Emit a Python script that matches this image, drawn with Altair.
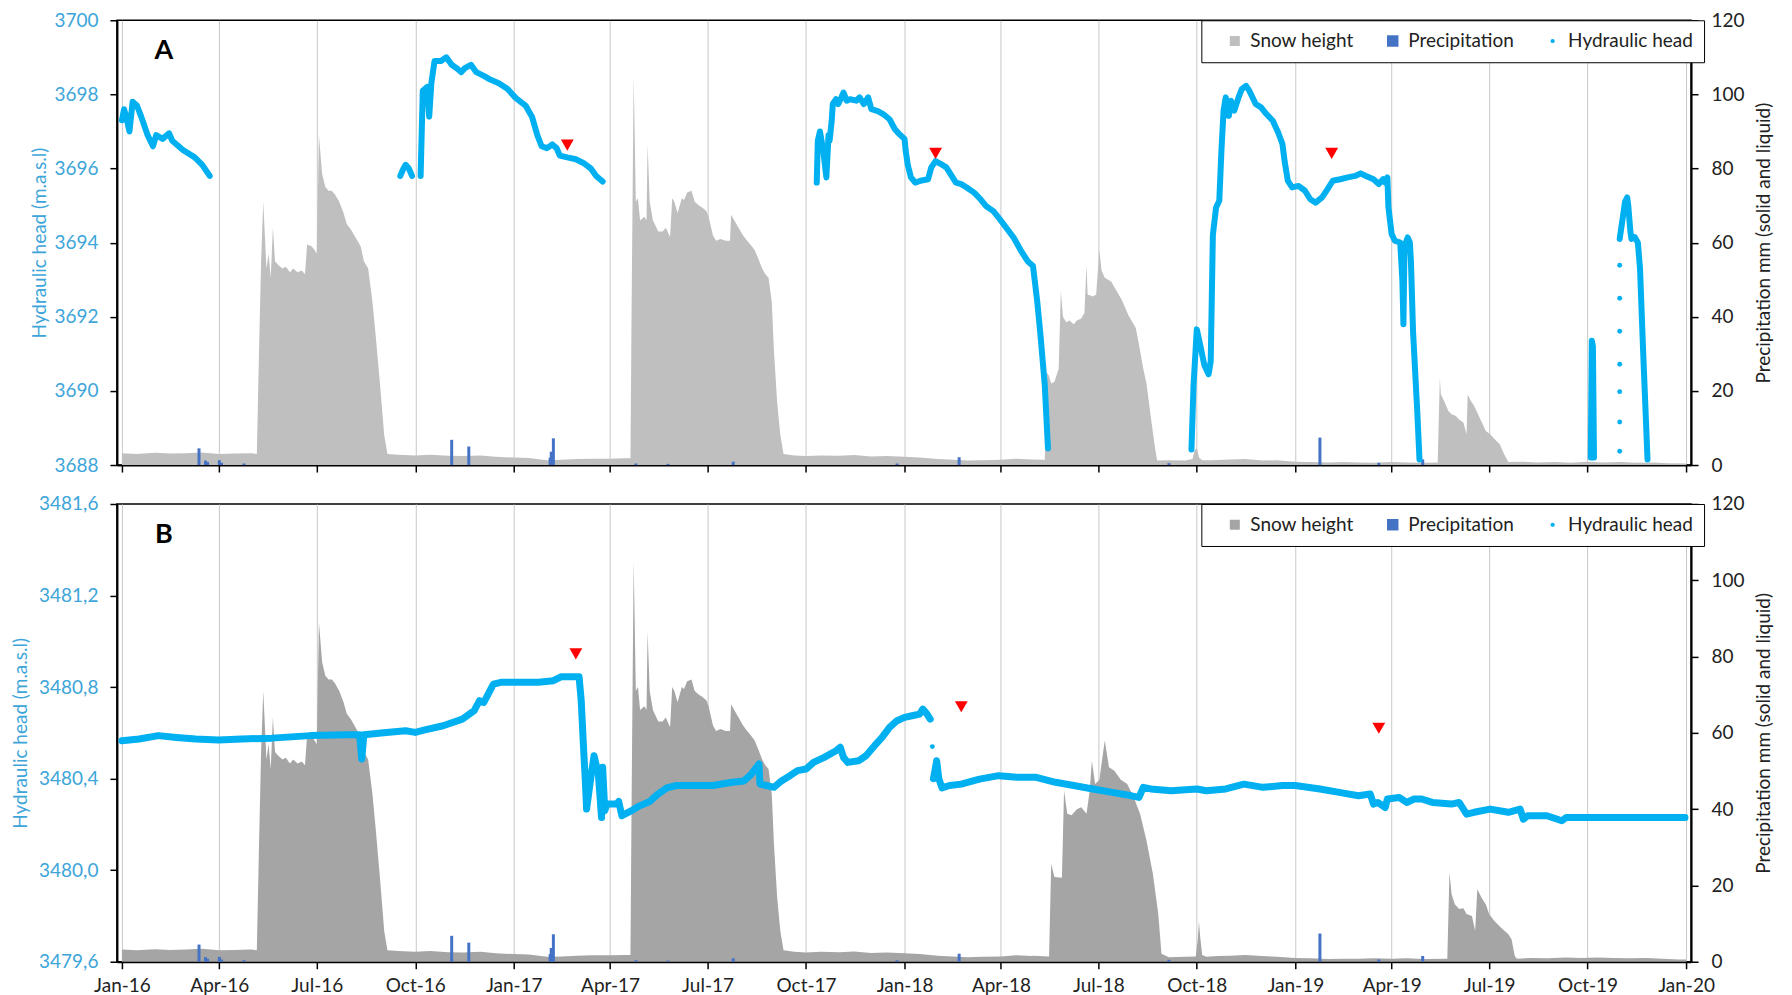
import altair as alt
import pandas as pd

# ---------------- data ----------------
series_names = ["Snow height", "Precipitation", "Hydraulic head"]
panel_labels = ["A", "B"]

tick_dates = [(y, m) for y in (2016, 2017, 2018, 2019) for m in (1, 4, 7, 10)] + [(2020, 1)]
head_a_ticks = [3688, 3690, 3692, 3694, 3696, 3698, 3700]
head_b_ticks = [3479.6, 3480.0, 3480.4, 3480.8, 3481.2, 3481.6]
precip_ticks = [0, 20, 40, 60, 80, 100, 120]

# snow height, shared part (Jan 2016 - Apr 2018)
snow_early = [
    ("2016-01-01", 3.2), ("2016-01-15", 3.0), ("2016-02-01", 3.3), ("2016-02-15", 3.1),
    ("2016-03-01", 3.2), ("2016-03-15", 3.4), ("2016-04-01", 3.0), ("2016-04-15", 3.1),
    ("2016-05-01", 3.2), ("2016-05-06", 3.0), ("2016-05-08", 30), ("2016-05-10", 55),
    ("2016-05-12", 71), ("2016-05-15", 53), ("2016-05-17", 57), ("2016-05-19", 50.5),
    ("2016-05-21", 64), ("2016-05-23", 55), ("2016-05-26", 54), ("2016-05-30", 53),
    ("2016-06-02", 53.5), ("2016-06-06", 52), ("2016-06-09", 53), ("2016-06-13", 52),
    ("2016-06-17", 52.5), ("2016-06-20", 51.5), ("2016-06-22", 59.5), ("2016-06-26", 59),
    ("2016-06-29", 58), ("2016-07-01", 57), ("2016-07-03", 89), ("2016-07-06", 78.5),
    ("2016-07-09", 75), ("2016-07-12", 74), ("2016-07-15", 74), ("2016-07-18", 73),
    ("2016-07-22", 71), ("2016-07-26", 68), ("2016-07-29", 65), ("2016-08-02", 63.5),
    ("2016-08-05", 62), ("2016-08-11", 59), ("2016-08-14", 55), ("2016-08-18", 53),
    ("2016-08-22", 44), ("2016-08-25", 35), ("2016-08-29", 22), ("2016-09-02", 8),
    ("2016-09-05", 3), ("2016-09-15", 2.8), ("2016-10-01", 2.6), ("2016-10-15", 2.8),
    ("2016-11-01", 2.5), ("2016-11-15", 2.4), ("2016-12-01", 2.6), ("2016-12-15", 2.2),
    ("2017-01-01", 2.0), ("2017-01-15", 1.9), ("2017-02-01", 1.3), ("2017-02-15", 1.4),
    ("2017-03-01", 1.6), ("2017-03-15", 1.7), ("2017-04-01", 1.7), ("2017-04-15", 1.8),
    ("2017-04-20", 1.8), ("2017-04-21", 40), ("2017-04-23", 105), ("2017-04-25", 71),
    ("2017-04-27", 72), ("2017-04-29", 66), ("2017-05-03", 67), ("2017-05-05", 66),
    ("2017-05-06", 86.5), ("2017-05-08", 71), ("2017-05-11", 66), ("2017-05-16", 63),
    ("2017-05-20", 63), ("2017-05-23", 64), ("2017-05-27", 61.5), ("2017-05-29", 72),
    ("2017-05-31", 71), ("2017-06-03", 68), ("2017-06-07", 72), ("2017-06-09", 71.5),
    ("2017-06-12", 73.5), ("2017-06-16", 74), ("2017-06-19", 71), ("2017-06-23", 70),
    ("2017-06-26", 69.5), ("2017-06-30", 68.5), ("2017-07-02", 67), ("2017-07-06", 62),
    ("2017-07-09", 60.5), ("2017-07-13", 61), ("2017-07-18", 60.5), ("2017-07-22", 60.5),
    ("2017-07-23", 67.5), ("2017-07-27", 65.5), ("2017-07-30", 64), ("2017-08-03", 62),
    ("2017-08-07", 60.5), ("2017-08-10", 59.5), ("2017-08-14", 58), ("2017-08-17", 56),
    ("2017-08-21", 53), ("2017-08-24", 51.5), ("2017-08-27", 50.5), ("2017-08-30", 44),
    ("2017-09-01", 31), ("2017-09-04", 17), ("2017-09-07", 8), ("2017-09-10", 3),
    ("2017-09-20", 2.6), ("2017-10-01", 2.4), ("2017-10-15", 2.6), ("2017-11-01", 2.5),
    ("2017-11-15", 2.7), ("2017-12-01", 2.3), ("2017-12-15", 2.4), ("2018-01-01", 2.2),
    ("2018-01-15", 2.0), ("2018-02-01", 1.6), ("2018-02-15", 1.4), ("2018-03-01", 1.2),
    ("2018-03-15", 1.3), ("2018-04-01", 1.4), ("2018-04-15", 1.7), ("2018-04-30", 1.5),
]

# snow height, panel A (May 2018 - Jan 2020)
snow_a_late = [
    ("2018-05-12", 1.4), ("2018-05-14", 25), ("2018-05-16", 24), ("2018-05-18", 22),
    ("2018-05-21", 22.5), ("2018-05-25", 26), ("2018-05-27", 47), ("2018-05-29", 40),
    ("2018-06-01", 38.5), ("2018-06-04", 39), ("2018-06-08", 38), ("2018-06-11", 39),
    ("2018-06-15", 39.5), ("2018-06-18", 41), ("2018-06-20", 54), ("2018-06-21", 46),
    ("2018-06-26", 45.5), ("2018-06-29", 46), ("2018-07-02", 58), ("2018-07-04", 52.5),
    ("2018-07-07", 50.5), ("2018-07-13", 49.5), ("2018-07-18", 47), ("2018-07-23", 44.5),
    ("2018-07-29", 40.5), ("2018-08-01", 39), ("2018-08-05", 37), ("2018-08-08", 32.5),
    ("2018-08-12", 26), ("2018-08-15", 22), ("2018-08-19", 13), ("2018-08-23", 4.5),
    ("2018-08-25", 1.2), ("2018-09-05", 1.3), ("2018-09-20", 1.2), ("2018-09-27", 1.6),
    ("2018-09-29", 4), ("2018-10-01", 4.5), ("2018-10-03", 2), ("2018-10-06", 1.3),
    ("2018-10-15", 1.3), ("2018-11-01", 1.5), ("2018-11-15", 1.6), ("2018-12-01", 1.2),
    ("2018-12-15", 1.3), ("2019-01-01", 0.9), ("2019-01-15", 0.8), ("2019-02-01", 0.7),
    ("2019-02-15", 0.8), ("2019-03-01", 0.7), ("2019-03-15", 0.6), ("2019-04-01", 0.8),
    ("2019-04-15", 0.7), ("2019-05-01", 0.6), ("2019-05-14", 0.7), ("2019-05-16", 23.5),
    ("2019-05-17", 19), ("2019-05-20", 17.3), ("2019-05-24", 14.6), ("2019-05-27", 13.7),
    ("2019-05-31", 13.2), ("2019-06-03", 12.3), ("2019-06-07", 11.5), ("2019-06-10", 8.3),
    ("2019-06-11", 19), ("2019-06-14", 17.3), ("2019-06-17", 16), ("2019-06-21", 13.5),
    ("2019-06-25", 11), ("2019-06-28", 9.2), ("2019-07-02", 8.3), ("2019-07-06", 7),
    ("2019-07-11", 5.6), ("2019-07-15", 3), ("2019-07-19", 0.8), ("2019-08-01", 0.9),
    ("2019-08-15", 0.7), ("2019-09-01", 0.8), ("2019-09-15", 0.6), ("2019-10-01", 0.9),
    ("2019-10-15", 0.7), ("2019-11-01", 0.8), ("2019-11-15", 0.6), ("2019-12-01", 0.7),
    ("2019-12-15", 0.5), ("2020-01-01", 0.4),
]

# snow height, panel B (May 2018 - Jan 2020)
snow_b_late = [
    ("2018-05-01", 1.6), ("2018-05-16", 1.4), ("2018-05-18", 25.7), ("2018-05-21", 22.2),
    ("2018-05-28", 22), ("2018-05-30", 44.9), ("2018-06-02", 38.8), ("2018-06-06", 38.4),
    ("2018-06-11", 40), ("2018-06-15", 40.5), ("2018-06-20", 38.8), ("2018-06-23", 44.9),
    ("2018-06-25", 52.7), ("2018-06-28", 46.6), ("2018-07-02", 47.7), ("2018-07-07", 58),
    ("2018-07-11", 51), ("2018-07-16", 50.1), ("2018-07-22", 47.7), ("2018-07-28", 46.6),
    ("2018-08-03", 43.2), ("2018-08-09", 38.8), ("2018-08-15", 31.8), ("2018-08-21", 23),
    ("2018-08-26", 12.6), ("2018-08-29", 2.1), ("2018-09-05", 1.2), ("2018-09-20", 1.3),
    ("2018-09-30", 1.4), ("2018-10-02", 6), ("2018-10-03", 10.6), ("2018-10-04", 7),
    ("2018-10-06", 1.8), ("2018-10-10", 1.3), ("2018-10-20", 1.5), ("2018-11-01", 1.6),
    ("2018-11-15", 1.8), ("2018-12-01", 1.5), ("2018-12-15", 1.3), ("2019-01-01", 1.0),
    ("2019-01-15", 0.9), ("2019-02-01", 0.7), ("2019-02-15", 0.8), ("2019-03-01", 0.8),
    ("2019-03-15", 0.9), ("2019-04-01", 0.8), ("2019-04-15", 0.9), ("2019-05-01", 0.7),
    ("2019-05-23", 0.8), ("2019-05-25", 23.4), ("2019-05-27", 17.7), ("2019-05-30", 15.1),
    ("2019-06-03", 13.8), ("2019-06-07", 14), ("2019-06-10", 12.5), ("2019-06-15", 12),
    ("2019-06-18", 8.1), ("2019-06-20", 19), ("2019-06-24", 16.8), ("2019-06-28", 15),
    ("2019-07-01", 12.5), ("2019-07-06", 10.7), ("2019-07-12", 9), ("2019-07-19", 7.2),
    ("2019-07-22", 5.9), ("2019-07-25", 1.5), ("2019-07-27", 0.8), ("2019-08-10", 1.0),
    ("2019-08-25", 0.9), ("2019-09-10", 1.1), ("2019-09-25", 1.0), ("2019-10-10", 1.1),
    ("2019-10-25", 1.0), ("2019-11-10", 0.9), ("2019-11-25", 1.0), ("2019-12-10", 0.8),
    ("2019-12-25", 0.6), ("2020-01-01", 0.6),
]

# daily precipitation (mm)
precip = [
    ("2016-03-13", 4.5), ("2016-03-19", 1.2), ("2016-03-21", 0.8), ("2016-04-01", 1.3),
    ("2016-04-03", 0.6), ("2016-04-24", 0.4), ("2016-11-04", 6.8), ("2016-11-20", 5.0),
    ("2017-02-04", 2.0), ("2017-02-05", 3.6), ("2017-02-07", 7.2), ("2017-04-25", 0.4),
    ("2017-05-25", 0.3), ("2017-07-25", 0.9), ("2017-12-25", 0.4), ("2018-02-21", 2.1),
    ("2018-09-05", 0.5), ("2019-01-24", 7.4), ("2019-03-20", 0.6), ("2019-04-30", 1.5),
]

# hydraulic head, panel A (segments separated by data gaps)
head_a_seg1 = [
    ("2016-01-01", 3697.3), ("2016-01-03", 3697.6), ("2016-01-05", 3697.4), ("2016-01-08", 3697.0),
    ("2016-01-11", 3697.8), ("2016-01-15", 3697.7), ("2016-01-19", 3697.4), ("2016-01-25", 3696.9),
    ("2016-01-30", 3696.6), ("2016-02-02", 3696.9), ("2016-02-08", 3696.8), ("2016-02-14", 3696.95),
    ("2016-02-17", 3696.75), ("2016-02-27", 3696.5), ("2016-03-09", 3696.3), ("2016-03-16", 3696.1),
    ("2016-03-23", 3695.8),
]
head_a_seg2 = [
    ("2016-09-17", 3695.8), ("2016-09-20", 3696.0), ("2016-09-22", 3696.1), ("2016-09-25", 3696.0),
    ("2016-09-28", 3695.8),
]
head_a_seg3 = [
    ("2016-10-06", 3695.8), ("2016-10-08", 3698.1), ("2016-10-12", 3698.2), ("2016-10-14", 3697.4),
    ("2016-10-16", 3698.3), ("2016-10-19", 3698.9), ("2016-10-25", 3698.9), ("2016-10-30", 3699.0),
    ("2016-11-04", 3698.8), ("2016-11-09", 3698.7), ("2016-11-13", 3698.6), ("2016-11-16", 3698.7),
    ("2016-11-22", 3698.8), ("2016-11-27", 3698.6), ("2016-12-04", 3698.5), ("2016-12-10", 3698.4),
    ("2016-12-18", 3698.3), ("2016-12-26", 3698.15), ("2017-01-03", 3697.9), ("2017-01-12", 3697.7),
    ("2017-01-18", 3697.4), ("2017-01-23", 3696.9), ("2017-01-27", 3696.6), ("2017-02-01", 3696.55),
    ("2017-02-06", 3696.65), ("2017-02-10", 3696.55), ("2017-02-13", 3696.35), ("2017-02-20", 3696.3),
    ("2017-02-28", 3696.25), ("2017-03-07", 3696.15), ("2017-03-14", 3696.0), ("2017-03-19", 3695.8),
    ("2017-03-25", 3695.65),
]
head_a_seg4 = [
    ("2017-10-11", 3695.62), ("2017-10-12", 3696.75), ("2017-10-14", 3697.0), ("2017-10-17", 3696.5),
    ("2017-10-20", 3695.76), ("2017-10-22", 3696.9), ("2017-10-23", 3696.75), ("2017-10-25", 3697.3),
    ("2017-10-26", 3697.74), ("2017-10-29", 3697.87), ("2017-10-31", 3697.74), ("2017-11-02", 3697.85),
    ("2017-11-05", 3698.05), ("2017-11-08", 3697.83), ("2017-11-11", 3697.87), ("2017-11-17", 3697.83),
    ("2017-11-20", 3697.92), ("2017-11-24", 3697.74), ("2017-11-28", 3697.92), ("2017-12-01", 3697.6),
    ("2017-12-07", 3697.55), ("2017-12-12", 3697.47), ("2017-12-18", 3697.33), ("2017-12-23", 3697.06),
    ("2017-12-27", 3696.93), ("2018-01-01", 3696.8), ("2018-01-02", 3696.5), ("2018-01-04", 3696.1),
    ("2018-01-07", 3695.76), ("2018-01-11", 3695.62), ("2018-01-16", 3695.67), ("2018-01-23", 3695.71),
    ("2018-01-26", 3696.03), ("2018-01-30", 3696.2), ("2018-02-04", 3696.12), ("2018-02-09", 3696.03),
    ("2018-02-13", 3695.85), ("2018-02-18", 3695.62), ("2018-02-23", 3695.58), ("2018-02-28", 3695.49),
    ("2018-03-07", 3695.35), ("2018-03-13", 3695.17), ("2018-03-18", 3694.99), ("2018-03-25", 3694.85),
    ("2018-03-30", 3694.67), ("2018-04-06", 3694.4), ("2018-04-13", 3694.13), ("2018-04-20", 3693.77),
    ("2018-04-26", 3693.5), ("2018-05-01", 3693.37), ("2018-05-05", 3692.4), ("2018-05-08", 3691.5),
    ("2018-05-12", 3690.15), ("2018-05-15", 3688.45),
]
head_a_seg5 = [
    ("2018-09-26", 3688.42), ("2018-09-28", 3690.18), ("2018-10-01", 3691.66), ("2018-10-04", 3691.26),
    ("2018-10-08", 3690.7), ("2018-10-12", 3690.45), ("2018-10-14", 3690.8), ("2018-10-16", 3694.2),
    ("2018-10-19", 3694.95), ("2018-10-22", 3695.13), ("2018-10-24", 3696.48), ("2018-10-26", 3697.56),
    ("2018-10-28", 3697.92), ("2018-10-31", 3697.42), ("2018-11-02", 3697.83), ("2018-11-05", 3697.56),
    ("2018-11-09", 3697.92), ("2018-11-12", 3698.14), ("2018-11-16", 3698.23), ("2018-11-19", 3698.1),
    ("2018-11-25", 3697.74), ("2018-11-30", 3697.65), ("2018-12-05", 3697.47), ("2018-12-11", 3697.29),
    ("2018-12-16", 3696.97), ("2018-12-20", 3696.66), ("2018-12-22", 3696.2), ("2018-12-25", 3695.67),
    ("2018-12-29", 3695.49), ("2019-01-04", 3695.53), ("2019-01-10", 3695.4), ("2019-01-15", 3695.17),
    ("2019-01-20", 3695.08), ("2019-01-26", 3695.22), ("2019-01-31", 3695.44), ("2019-02-05", 3695.67),
    ("2019-02-12", 3695.71), ("2019-02-19", 3695.76), ("2019-02-26", 3695.8), ("2019-03-03", 3695.87),
    ("2019-03-08", 3695.8), ("2019-03-15", 3695.71), ("2019-03-20", 3695.58), ("2019-03-24", 3695.71),
    ("2019-03-26", 3695.62), ("2019-03-28", 3695.76), ("2019-03-29", 3694.95), ("2019-04-01", 3694.23),
    ("2019-04-04", 3694.05), ("2019-04-09", 3694.0), ("2019-04-11", 3693.0), ("2019-04-12", 3691.8),
    ("2019-04-13", 3693.9), ("2019-04-16", 3694.14), ("2019-04-18", 3694.0), ("2019-04-19", 3693.5),
    ("2019-04-21", 3691.6), ("2019-04-25", 3689.4), ("2019-04-27", 3688.15),
]
head_a_seg6 = [
    ("2019-10-04", 3688.2), ("2019-10-05", 3691.35), ("2019-10-06", 3691.2), ("2019-10-07", 3688.2),
]
head_a_seg7 = [
    ("2019-10-31", 3694.1), ("2019-11-01", 3694.3), ("2019-11-03", 3694.7), ("2019-11-05", 3695.1),
    ("2019-11-07", 3695.22), ("2019-11-08", 3695.0), ("2019-11-10", 3694.3), ("2019-11-11", 3694.1),
    ("2019-11-14", 3694.15), ("2019-11-17", 3694.0), ("2019-11-19", 3693.3), ("2019-11-22", 3691.0),
    ("2019-11-26", 3688.15),
]
head_a_dots = [
    ("2019-10-31", 3693.39), ("2019-10-31", 3692.5), ("2019-10-31", 3691.61), ("2019-10-31", 3690.72),
    ("2019-10-31", 3689.98), ("2019-10-31", 3689.16), ("2019-10-31", 3688.37),
]

# hydraulic head, panel B
head_b_seg1 = [
    ("2016-01-01", 3480.566), ("2016-01-17", 3480.573), ("2016-02-04", 3480.588), ("2016-02-21", 3480.580),
    ("2016-03-10", 3480.573), ("2016-03-31", 3480.569), ("2016-04-22", 3480.573), ("2016-05-20", 3480.577),
    ("2016-06-25", 3480.588), ("2016-07-30", 3480.592), ("2016-08-10", 3480.592), ("2016-08-12", 3480.486),
    ("2016-08-14", 3480.592), ("2016-09-04", 3480.602), ("2016-09-22", 3480.609), ("2016-10-01", 3480.602),
    ("2016-10-09", 3480.612), ("2016-10-27", 3480.631), ("2016-11-14", 3480.660), ("2016-11-25", 3480.697),
    ("2016-11-30", 3480.741), ("2016-12-04", 3480.733), ("2016-12-13", 3480.813), ("2016-12-20", 3480.821),
    ("2017-01-01", 3480.821), ("2017-01-24", 3480.821), ("2017-02-07", 3480.828), ("2017-02-14", 3480.845),
    ("2017-03-03", 3480.845), ("2017-03-05", 3480.741), ("2017-03-07", 3480.551), ("2017-03-09", 3480.376),
    ("2017-03-10", 3480.267), ("2017-03-14", 3480.405), ("2017-03-17", 3480.50), ("2017-03-21", 3480.42),
    ("2017-03-24", 3480.23), ("2017-03-25", 3480.45), ("2017-03-27", 3480.26), ("2017-03-29", 3480.29),
    ("2017-04-07", 3480.289), ("2017-04-09", 3480.30), ("2017-04-12", 3480.238), ("2017-04-21", 3480.26),
    ("2017-04-28", 3480.28), ("2017-05-08", 3480.30), ("2017-05-15", 3480.33), ("2017-05-24", 3480.36),
    ("2017-06-02", 3480.37), ("2017-06-19", 3480.37), ("2017-07-06", 3480.37), ("2017-07-24", 3480.384),
    ("2017-08-04", 3480.39), ("2017-08-11", 3480.42), ("2017-08-18", 3480.464), ("2017-08-19", 3480.376),
    ("2017-08-25", 3480.37), ("2017-09-01", 3480.362), ("2017-09-08", 3480.39), ("2017-09-16", 3480.413),
    ("2017-09-23", 3480.435), ("2017-10-01", 3480.442), ("2017-10-08", 3480.471), ("2017-10-18", 3480.493),
    ("2017-10-29", 3480.522), ("2017-11-02", 3480.537), ("2017-11-05", 3480.493), ("2017-11-09", 3480.471),
    ("2017-11-19", 3480.478), ("2017-11-26", 3480.50), ("2017-12-04", 3480.544), ("2017-12-11", 3480.58),
    ("2017-12-18", 3480.624), ("2017-12-25", 3480.653), ("2018-01-01", 3480.668), ("2018-01-08", 3480.675),
    ("2018-01-15", 3480.682), ("2018-01-18", 3480.704), ("2018-01-22", 3480.682), ("2018-01-25", 3480.66),
]
head_b_seg2 = [
    ("2018-01-28", 3480.40), ("2018-01-30", 3480.45), ("2018-01-31", 3480.478), ("2018-02-02", 3480.40),
    ("2018-02-05", 3480.36), ("2018-02-12", 3480.37), ("2018-02-23", 3480.376), ("2018-03-12", 3480.398),
    ("2018-03-30", 3480.413), ("2018-04-16", 3480.406), ("2018-05-04", 3480.406), ("2018-05-22", 3480.384),
    ("2018-06-08", 3480.37), ("2018-06-26", 3480.355), ("2018-07-14", 3480.34), ("2018-08-01", 3480.325),
    ("2018-08-08", 3480.318), ("2018-08-12", 3480.362), ("2018-08-19", 3480.355), ("2018-09-07", 3480.347),
    ("2018-10-01", 3480.355), ("2018-10-10", 3480.347), ("2018-10-28", 3480.355), ("2018-11-14", 3480.376),
    ("2018-12-02", 3480.362), ("2018-12-20", 3480.37), ("2019-01-01", 3480.37), ("2019-01-24", 3480.355),
    ("2019-02-11", 3480.34), ("2019-03-01", 3480.325), ("2019-03-12", 3480.333), ("2019-03-15", 3480.289),
    ("2019-03-19", 3480.296), ("2019-03-26", 3480.274), ("2019-03-28", 3480.311), ("2019-04-08", 3480.318),
    ("2019-04-15", 3480.296), ("2019-04-22", 3480.311), ("2019-04-29", 3480.311), ("2019-05-09", 3480.296),
    ("2019-05-27", 3480.289), ("2019-06-03", 3480.296), ("2019-06-10", 3480.245), ("2019-06-17", 3480.253),
    ("2019-07-02", 3480.267), ("2019-07-19", 3480.253), ("2019-07-30", 3480.267), ("2019-08-02", 3480.223),
    ("2019-08-06", 3480.238), ("2019-08-24", 3480.238), ("2019-09-07", 3480.216), ("2019-09-11", 3480.23),
    ("2019-09-28", 3480.23), ("2019-10-16", 3480.23), ("2019-11-21", 3480.23), ("2019-12-31", 3480.23),
]
head_b_dots = [("2018-01-27", 3480.54)]

# reference markers (red triangles)
markers_a = [("2017-02-20", 3696.63), ("2018-01-30", 3696.41), ("2019-02-04", 3696.41)]
markers_b = [("2017-02-28", 3480.945), ("2018-02-23", 3480.714), ("2019-03-20", 3480.62)]

# ---------------- styling ----------------
HEAD_BLUE = "#00B0F0"
PRECIP_BLUE = "#4472C4"
LEFT_TXT = "#3DA5D9"
DARK_TXT = "#222222"
FONT = "Lato"
FS = 19
PLOT_W = 1575
# legend symbol outlines in the unit square (-1..1)
SQUARE_PATH = "M-1,-1H1V1H-1Z"
BIG_SQUARE_PATH = "M-1.15,-1.15H1.15V1.15H-1.15Z"
DOT_PATH = "M-0.42,0A0.42,0.42,0,1,0,0.42,0A0.42,0.42,0,1,0,-0.42,0Z"


def frame(pairs, seg=None):
    df = pd.DataFrame(pairs, columns=["date", "value"])
    df["date"] = pd.to_datetime(df["date"])
    if seg is not None:
        df["seg"] = seg
    return df


def x_enc(show_labels):
    return alt.X(
        "date:T",
        title=None,
        scale=alt.Scale(
            domain=[alt.DateTime(year=2016, month=1, date=1), alt.DateTime(year=2020, month=1, date=1)],
            nice=False,
        ),
        axis=alt.Axis(
            values=[alt.DateTime(year=y, month=m, date=1) for (y, m) in tick_dates],
            format="%b-%y",
            labels=show_labels,
            grid=True,
            gridColor="#C8C8C8",
            gridWidth=1,
            ticks=True,
            tickSize=7,
            tickColor="#000",
            tickWidth=1.5,
            domainColor="#000",
            domainWidth=2,
            labelPadding=8,
            labelFont=FONT,
            labelFontSize=FS,
            labelColor=DARK_TXT,
            title=None,
        ),
    )


def panel(letter, snow_pairs, snow_color, head_segments, dots, markers, head_ticks, head_label_expr,
          height, line_width, left_title_pad):
    y_right = alt.Y(
        "value:Q",
        scale=alt.Scale(domain=[0, 120], nice=False, zero=True),
        axis=alt.Axis(
            orient="right", values=precip_ticks, title="Precipitation mm (solid and liquid)",
            titleAngle=270, titleBaseline="top", titlePadding=10, titleFont=FONT, titleFontSize=FS,
            titleFontWeight="normal", titleColor=DARK_TXT, labelFont=FONT, labelFontSize=FS,
            labelColor=DARK_TXT, tickSize=7, tickColor="#000", tickWidth=1.5, domainColor="#000",
            domainWidth=2, labelPadding=13, grid=False,
        ),
    )
    y_left = alt.Y(
        "value:Q",
        scale=alt.Scale(domain=[head_ticks[0], head_ticks[-1]], nice=False, zero=False),
        axis=alt.Axis(
            orient="left", values=head_ticks, labelExpr=head_label_expr, title="Hydraulic head (m.a.s.l)",
            titlePadding=left_title_pad, titleFont=FONT, titleFontSize=FS, titleFontWeight="normal",
            titleColor=LEFT_TXT, labelFont=FONT, labelFontSize=FS, labelColor=LEFT_TXT, tickSize=7,
            tickColor="#000", tickWidth=1.5, domainColor="#000", domainWidth=2, labelPadding=12,
            grid=False,
        ),
    )
    show_labels = letter == "B"

    snow = alt.Chart(frame(snow_pairs)).mark_area(color=snow_color, opacity=1, interpolate="linear").encode(
        x=x_enc(show_labels), y=y_right
    )
    bars = alt.Chart(frame(precip)).mark_bar(color=PRECIP_BLUE, size=3).encode(x=x_enc(show_labels), y=y_right)

    seg_frames = [frame(s, seg=i) for i, s in enumerate(head_segments)]
    head_df = pd.concat(seg_frames, ignore_index=True)
    head = alt.Chart(head_df).mark_line(
        color=HEAD_BLUE, strokeWidth=line_width, strokeCap="round", strokeJoin="round"
    ).encode(x=x_enc(show_labels), y=y_left, detail="seg:N")
    dot_layer = alt.Chart(frame(dots)).mark_circle(color=HEAD_BLUE, size=24, opacity=1).encode(
        x=x_enc(show_labels), y=y_left
    )
    tri = alt.Chart(frame(markers)).mark_point(
        shape="triangle-down", filled=True, color="#FF0000", size=165, opacity=1
    ).encode(x=x_enc(show_labels), y=y_left)

    legend = alt.Legend(
        orient="none", legendX=1085, legendY=0, direction="horizontal", columns=3,
        title=" ", titleOrient="left", titlePadding=13, padding=11, strokeColor="#000",
        fillColor="#FFFFFF", labelFont=FONT, labelFontSize=FS, labelColor=DARK_TXT,
        columnPadding=29, labelOffset=6, symbolStrokeWidth=0, labelLimit=300, symbolSize=100,
    )
    leg_df = pd.DataFrame({"series": series_names})
    leg = alt.Chart(leg_df).mark_point(filled=True, opacity=1, size=100).encode(
        color=alt.Color("series:N", scale=alt.Scale(domain=series_names, range=[snow_color, PRECIP_BLUE, HEAD_BLUE]),
                        legend=legend),
        shape=alt.Shape("series:N", scale=alt.Scale(domain=series_names, range=[SQUARE_PATH, BIG_SQUARE_PATH, DOT_PATH]),
                        legend=legend),
    ).transform_filter("datum.series == 'none'")

    letter_df = pd.DataFrame({"t": [letter]})
    letter_mark = alt.Chart(letter_df).mark_text(
        font=FONT, fontSize=27, fontWeight="bold", color="#000", align="center", baseline="middle"
    ).encode(text="t:N", x=alt.value(47), y=alt.value(31))

    right_part = alt.layer(snow, bars)
    left_part = alt.layer(head, dot_layer, tri)
    return alt.layer(right_part, left_part, leg, letter_mark).resolve_scale(y="independent").properties(
        width=PLOT_W, height=height
    )


panel_a = panel(
    panel_labels[0], snow_early + snow_a_late, "#BFBFBF",
    [head_a_seg1, head_a_seg2, head_a_seg3, head_a_seg4, head_a_seg5, head_a_seg6, head_a_seg7],
    head_a_dots, markers_a, head_a_ticks, "format(datum.value, 'd')", 445, 6, 4,
)
panel_b = panel(
    panel_labels[1], snow_early + snow_b_late, "#A5A5A5",
    [head_b_seg1, head_b_seg2], head_b_dots, markers_b, head_b_ticks,
    "replace(format(datum.value, '.1f'), '.', ',')", 458, 7, 8,
)

chart = alt.vconcat(panel_a, panel_b, spacing=18).resolve_scale(
    color="independent", shape="independent"
).properties(
    padding={"left": 10, "top": 10, "right": 18, "bottom": 3}, background="white"
).configure(font=FONT).configure_view(stroke="#000", strokeWidth=1.5)

chart.save("out.html", embed_options={"renderer": "svg", "actions": False})
